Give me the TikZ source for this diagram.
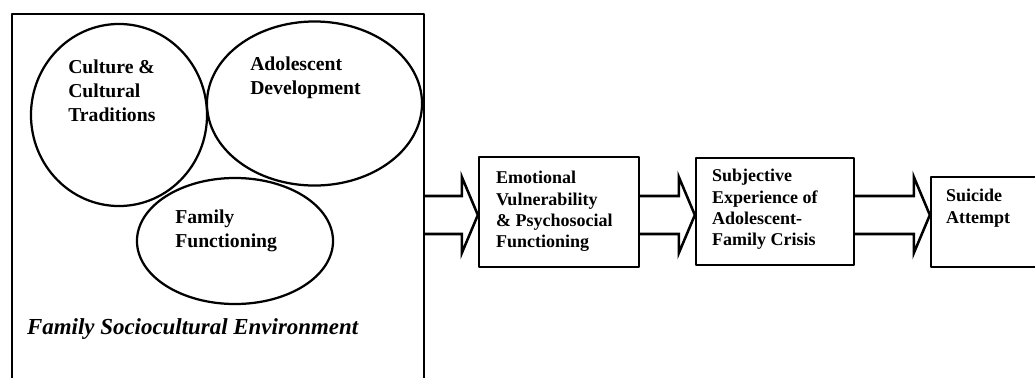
\documentclass[tikz,border=0pt]{standalone}
\usepackage{fontspec}
\setmainfont{Liberation Serif}
\usetikzlibrary{shapes.geometric}
\usetikzlibrary{calc}
\tikzset{
  frame/.style={draw, rectangle, line width=1.6pt, inner sep=0pt},
  oval/.style={draw, ellipse, line width=1.6pt, inner sep=0pt},
  ovaltext/.style={anchor=north west, inner sep=0pt, align=left, font=\fontsize{14}{17}\selectfont\bfseries},
  boxtext/.style={anchor=north west, inner sep=0pt, align=left, font=\fontsize{12.8}{15.2}\selectfont\bfseries},
  envtext/.style={anchor=north west, inner sep=0pt, font=\fontsize{16.3}{18}\selectfont\bfseries\itshape},
  shaft/.style={line width=1.8pt, line join=miter}
}
% open block arrow from node #1 to node #2
\newcommand{\blockarrow}[2]{%
  \draw[shaft] ($(#1.east |- axis)+(0,-19)$) -| ($(#2.west |- axis)+(-16,-38)$)
    -- (#2.west |- axis) -- ($(#2.west |- axis)+(-16,38)$) |- ($(#1.east |- axis)+(0,19)$);
}

\begin{document}
\begin{tikzpicture}[x=0.025cm, y=-0.025cm, line cap=round, line join=round]
\useasboundingbox (0,0) rectangle (1035,377);
\clip (0,0) rectangle (1035,377);
\coordinate (axis) at (0,215);

% sociocultural environment, lower edge runs off the page
\node[frame, minimum width=10.3cm, minimum height=9.6cm] (env) at (218,206) {};

\node[oval, minimum width=4.4cm, minimum height=4.55cm] (culture) at (119,115) {};
\node[oval, minimum width=5.375cm, minimum height=4.1cm] (adol) at (314.5,103.5) {};
\node[oval, minimum width=4.9cm, minimum height=3.15cm] (famfunc) at (235,241) {};

\node[ovaltext] (culturetxt) at ($(culture.center)+(-51,-55)$) {Culture \&\\Cultural\\Traditions};
\node[ovaltext] (adoltxt) at ($(adol.center)+(-64.5,-46.5)$) {Adolescent\\Development};
\node[ovaltext] (famfunctxt) at ($(famfunc.center)+(-60,-31)$) {Family\\Functioning};
\node[envtext] (envtxt) at ($(env.north west)+(16,305)$) {Family Sociocultural Environment};

% chain of boxes
\node[frame, minimum width=4cm, minimum height=2.75cm] (emo) at (559,212) {};
\node[frame, minimum width=3.95cm, minimum height=2.675cm] (crisis) at (775,211.5) {};
\node[frame, minimum width=3.3cm, minimum height=2.25cm] (suicide) at (997,222) {};

\node[boxtext] (emotxt) at ($(emo.north west)+(18,15)$) {Emotional\\Vulnerability\\\& Psychosocial\\Functioning};
\node[boxtext] (crisistxt) at ($(crisis.north west)+(17,12)$) {Subjective\\Experience of\\Adolescent-\\Family Crisis};
\node[boxtext] (suicidetxt) at ($(suicide.north west)+(16,13)$) {Suicide\\Attempt};

\blockarrow{env}{emo}
\blockarrow{emo}{crisis}
\blockarrow{crisis}{suicide}

\end{tikzpicture}
\end{document}
